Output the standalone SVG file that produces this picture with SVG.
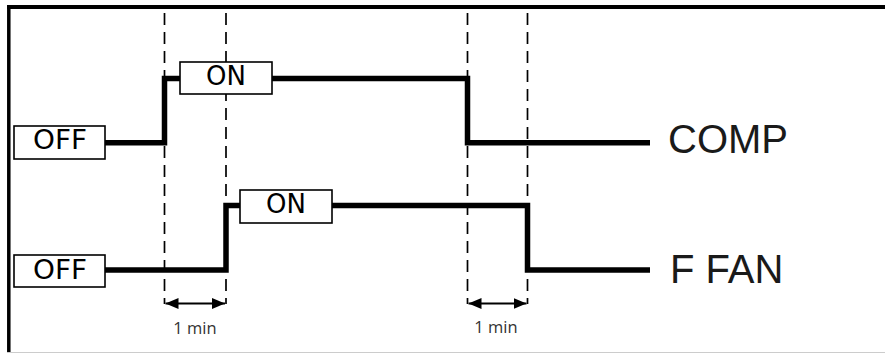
<svg xmlns="http://www.w3.org/2000/svg" width="885" height="354" viewBox="0 0 885 354">
<style>
.box{fill:#fff;stroke:#000;stroke-width:1.6}
.st{font-family:"DejaVu Sans",sans-serif;font-size:26px;fill:#000;text-anchor:middle}
.sig{fill:none;stroke:#000;stroke-width:5.5;stroke-linejoin:miter;stroke-linecap:butt}
.dash{stroke:#000;stroke-width:1.7;stroke-dasharray:12 7;fill:none}
.dim{stroke:#000;stroke-width:1.8;fill:none}
.lbl{font-family:"Liberation Sans",Arial,sans-serif;font-size:40px;fill:#1a1a1a}
.min{font-family:"Open Sans",sans-serif;font-size:16.5px;fill:#333;text-anchor:middle}
</style>
<defs>
<marker id="ah" viewBox="0 0 13 11" refX="13" refY="5.5" markerWidth="13" markerHeight="11" markerUnits="userSpaceOnUse" orient="auto-start-reverse">
<path d="M0,0 L13,5.5 L0,11 Z" fill="#000"/>
</marker>
</defs>
<rect x="0" y="0" width="885" height="354" fill="#fff"/>
<g id="frame">
<line x1="7" y1="7" x2="885" y2="7" stroke="#000" stroke-width="4"/>
<line x1="8.8" y1="5" x2="8.8" y2="352" stroke="#000" stroke-width="3.5"/>
<line x1="7" y1="352.5" x2="885" y2="352.5" stroke="#ccc" stroke-width="1.2"/>
</g>
<g id="connectors">
<line class="dash" x1="164.5" y1="13" x2="164.5" y2="304"/>
<line class="dash" x1="226" y1="13" x2="226" y2="304"/>
<line class="dash" x1="467.5" y1="13" x2="467.5" y2="304"/>
<line class="dash" x1="527.5" y1="13" x2="527.5" y2="304"/>
<polyline class="sig" points="105,142.8 164.5,142.8 164.5,78.5 180,78.5"/>
<path class="sig" d="M272,78.5 L467.5,78.5 L467.5,142.8 L650,142.8" stroke-linecap="round"/>
<polyline class="sig" points="105,270 226,270 226,205.5 240,205.5"/>
<path class="sig" d="M332,205.5 L527.5,205.5 L527.5,270 L650,270" stroke-linecap="round"/>
<line class="dim" x1="165.5" y1="303.5" x2="225" y2="303.5" marker-start="url(#ah)" marker-end="url(#ah)"/>
<line class="dim" x1="468.5" y1="303.5" x2="526.5" y2="303.5" marker-start="url(#ah)" marker-end="url(#ah)"/>
</g>
<g id="comp-off">
<rect class="box" x="14" y="126" width="91" height="33"/>
<text class="st" x="60" y="149" textLength="54" lengthAdjust="spacingAndGlyphs">OFF</text>
</g>
<g id="comp-on">
<rect class="box" x="180" y="62" width="92" height="32"/>
<text class="st" x="226" y="85">ON</text>
</g>
<g id="fan-off">
<rect class="box" x="14" y="255" width="91" height="32"/>
<text class="st" x="60" y="279" textLength="54" lengthAdjust="spacingAndGlyphs">OFF</text>
</g>
<g id="fan-on">
<rect class="box" x="240" y="190" width="92" height="33"/>
<text class="st" x="286" y="213">ON</text>
</g>
<g id="comp-label">
<text class="lbl" x="668" y="153">COMP</text>
</g>
<g id="fan-label">
<text class="lbl" x="670" y="283">F FAN</text>
</g>
<g id="dim1">
<text class="min" x="195" y="334">1 min</text>
</g>
<g id="dim2">
<text class="min" x="496" y="333">1 min</text>
</g>
</svg>
